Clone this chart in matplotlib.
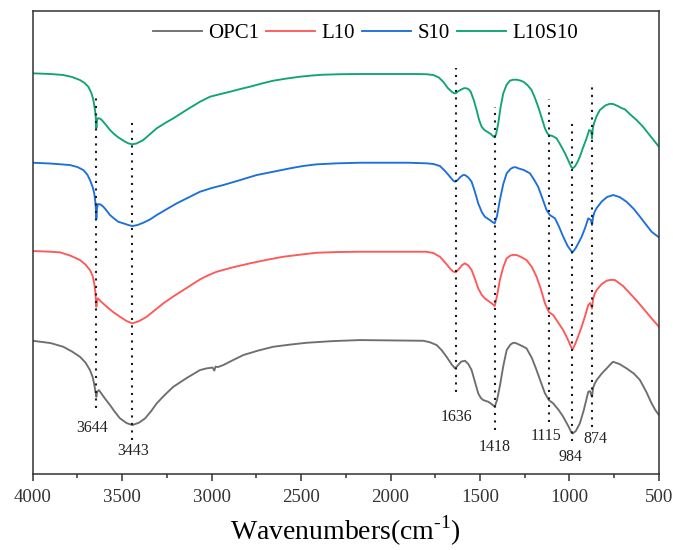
import matplotlib
matplotlib.use("Agg")
import matplotlib.pyplot as plt
from matplotlib.ticker import MultipleLocator

plt.rcParams["font.family"] = ["Liberation Serif", "DejaVu Serif"]
plt.rcParams["mathtext.fontset"] = "custom"
plt.rcParams["mathtext.rm"] = "Liberation Serif"

# FTIR spectra, offset transmittance (a.u.)
wn_opc1 = [4000, 3900, 3829, 3780, 3736, 3705, 3680, 3665, 3657, 3650, 3646, 3644, 3640, 3630,
           3600, 3568, 3540, 3512, 3475, 3443, 3405, 3372, 3340, 3307, 3260, 3214, 3140, 3065,
           3028, 2995, 2985, 2978, 2965, 2935, 2880, 2823, 2740, 2656, 2560, 2469, 2320, 2171,
           1817, 1780, 1742, 1715, 1687, 1660, 1640, 1625, 1605, 1584, 1565, 1547, 1528, 1510,
           1495, 1482, 1454, 1435, 1418, 1405, 1389, 1370, 1351, 1330, 1314, 1300, 1270, 1240,
           1210, 1184, 1160, 1137, 1115, 1091, 1060, 1035, 1005, 990, 982, 965, 942, 920, 905,
           895, 885, 878, 874, 868, 860, 848, 820, 792, 770, 756, 720, 681, 640, 606, 570, 541,
           520, 500]
t_opc1 = [133.3, 131, 127.3, 122.5, 117.3, 111.5, 104, 97, 90.7, 83, 79, 77.3, 82, 84,
          76.5, 69, 62, 55.7, 51, 49, 51.5, 55.7, 62.5, 70.7, 79.5, 87.3, 96, 104,
          105.7, 106.5, 103.5, 107.5, 107, 109, 114, 119, 123.5, 127.3, 129.5, 131.3, 133, 134,
          133.3, 131.8, 129, 124, 117.3, 110, 105.7, 108.5, 112.5, 113.3, 110, 104, 92, 80.7,
          76, 74, 72.3, 70, 67.3, 74, 88, 108, 124, 129.5, 131.3, 131, 128.5, 125.7,
          116, 104, 92, 80.7, 74, 70.7, 64, 57.3, 47.5, 42, 40.7, 43, 50.7, 64, 75,
          82.3, 83, 79, 77.3, 86, 90, 94, 100.5, 105.7, 110, 112.3, 110, 105.7, 100.5, 94, 82, 70.7,
          64, 59]

wn_l10 = [4000, 3920, 3847, 3790, 3736, 3705, 3680, 3665, 3656, 3650, 3646, 3644, 3641, 3636,
          3615, 3586, 3550, 3512, 3475, 3443, 3405, 3363, 3320, 3270, 3215, 3158, 3110, 3065,
          3020, 2972, 2880, 2786, 2690, 2600, 2500, 2413, 2300, 2171, 1800, 1760, 1724, 1695,
          1668, 1650, 1636, 1620, 1600, 1584, 1565, 1547, 1528, 1510, 1490, 1473, 1445, 1430,
          1418, 1405, 1389, 1370, 1351, 1330, 1314, 1295, 1270, 1240, 1210, 1184, 1160, 1137,
          1115, 1091, 1065, 1035, 1005, 990, 982, 968, 950, 932, 912, 895, 885, 878, 874, 868,
          860, 848, 820, 792, 770, 746, 700, 662, 625, 588, 545, 500]
t_l10 = [223, 222.5, 221.7, 218.5, 214, 209.5, 204, 198, 190.7, 182, 172, 167.3, 173, 175.7,
         172, 167.3, 162, 157.3, 153, 150.7, 153, 157.3, 163.5, 170.7, 177.5, 184, 189.5, 194.7,
         198.7, 202.3, 206.8, 210.7, 214.3, 217.3, 219.5, 221.3, 222, 222.3, 222.3, 221, 217.3, 211.5,
         205.7, 202.5, 201.7, 204.5, 209, 210.7, 208.5, 204, 195, 185.7, 179, 175.7, 172, 170,
         168, 178, 194, 207, 215.7, 218.5, 219.2, 219, 217, 214, 207, 197.3, 185, 170.7,
         162, 159, 152, 144, 133, 126.5, 124.7, 130, 138.5, 147.3, 158.5, 169, 171, 168, 165.7, 175,
         180, 184, 190, 193.3, 194.2, 194, 188, 180.7, 173.5, 165.7, 156.5, 147.3]

wn_s10 = [4000, 3900, 3792, 3750, 3717, 3695, 3680, 3665, 3656, 3650, 3646, 3644, 3641, 3636,
          3620, 3605, 3585, 3568, 3545, 3522, 3490, 3465, 3443, 3415, 3382, 3345, 3307, 3250,
          3195, 3130, 3065, 3000, 2935, 2840, 2748, 2650, 2562, 2490, 2413, 2300, 2171, 1900,
          1798, 1760, 1724, 1695, 1668, 1650, 1640, 1625, 1610, 1595, 1584, 1565, 1547, 1528,
          1510, 1490, 1473, 1445, 1430, 1418, 1405, 1389, 1370, 1351, 1330, 1314, 1300, 1286,
          1255, 1221, 1200, 1175, 1150, 1128, 1110, 1081, 1060, 1035, 1010, 990, 980, 965, 950,
          932, 912, 895, 880, 874, 868, 860, 848, 820, 790, 756, 720, 681, 640, 606, 570, 541, 500]
t_s10 = [311.3, 310.5, 309, 307, 304, 299.5, 294, 287, 280.7, 272, 262, 255.7, 265, 270,
         269.5, 267.3, 263, 259, 255.5, 252.3, 250.5, 249, 248, 249, 251.3, 254.5, 259, 265,
         270.7, 276.5, 282.3, 286, 289, 294, 299, 302.5, 305.7, 308, 309.7, 310.7, 311.3, 311.3,
         310.7, 310, 308, 303, 297.3, 293.5, 292.3, 294, 297, 299, 299, 296.5, 292.3, 282,
         270.7, 262, 257.3, 254, 252, 250.7, 258, 274, 290, 300.7, 305, 306.7, 306.8, 305.7,
         304, 300.7, 295, 287.3, 275, 264, 259, 255.7, 248, 237.3, 228, 223, 222.3, 226, 231,
         237.3, 246.5, 255.7, 254, 249, 257, 262, 266, 272.5, 277, 279, 277, 272.3, 265, 257.3, 249, 242.3, 236.7]

wn_l10s10 = [4000, 3900, 3829, 3780, 3736, 3710, 3689, 3672, 3661, 3652, 3648, 3645, 3644, 3642,
             3638, 3625, 3614, 3590, 3568, 3545, 3522, 3490, 3466, 3443, 3420, 3382, 3350, 3307,
             3260, 3214, 3150, 3100, 3065, 3009, 2950, 2897, 2840, 2786, 2720, 2656, 2580, 2506,
             2440, 2376, 2280, 2171, 1854, 1800, 1761, 1730, 1706, 1680, 1659, 1645, 1636, 1620,
             1603, 1588, 1575, 1562, 1552, 1535, 1519, 1505, 1491, 1475, 1460, 1440, 1425, 1418,
             1410, 1398, 1385, 1370, 1352, 1333, 1315, 1295, 1275, 1258, 1235, 1212, 1195, 1175,
             1155, 1137, 1125, 1115, 1095, 1072, 1050, 1025, 1000, 990, 982, 970, 955, 942, 925,
             908, 895, 890, 880, 876, 874, 870, 863, 848, 830, 800, 775, 756, 730, 710, 690, 660,
             625, 590, 560, 530, 500]
t_l10s10 = [400.7, 400, 399, 397, 394, 391, 387.3, 381, 374, 364, 357.3, 350, 346, 352,
            355.7, 355.5, 354, 349, 344, 340, 336.7, 333, 330.7, 329.7, 330.5, 334, 339, 345.7,
            351, 355.7, 363, 368.5, 372.3, 377.3, 380, 382.3, 385, 387.3, 390.5, 393.3, 395.5, 397.3,
            398.5, 399.3, 399.8, 400, 400, 399.8, 399, 396.5, 392.3, 386, 382.3, 380.8, 380.7, 383,
            384.7, 385.9, 385.7, 384.5, 382.3, 374, 364, 354, 347.3, 344, 342.3, 340, 337.5, 336.7,
            340, 350.7, 367, 380.7, 389, 393.3, 394.3, 394.3, 393.5, 392.3, 389, 384, 377, 367.3,
            356, 345.7, 341, 339, 338, 335.7, 329, 320.7, 311, 307, 305.7, 307.5, 312, 317.3, 326,
            334, 341, 344, 343, 340, 335.7, 345, 350.7, 358, 364, 368.5, 370.2, 370, 368, 366, 364.7, 359.5,
            354, 347.5, 340.7, 334, 327.3]

series = [
    ("OPC1", wn_opc1, t_opc1, "#6e6e6e"),
    ("L10", wn_l10, t_l10, "#ff5858"),
    ("S10", wn_s10, t_s10, "#1c6fdc"),
    ("L10S10", wn_l10s10, t_l10s10, "#10a56e"),
]

# marked bands: wavenumber, dotted line span (low, high), label position
peaks = [3644, 3443, 1636, 1418, 1115, 984, 874]
peak_span = [(66, 379), (34, 356), (82, 406), (44, 367), (52, 375), (33, 353), (47, 389)]
peak_label_x = [3670, 3440, 1631, 1420, 1132, 992, 858]
peak_label_y = [46, 23, 57, 27, 38, 17, 35]

fig = plt.figure(figsize=(6.73, 5.5), dpi=100)
ax = fig.add_axes([0.0486, 0.138, 0.9305, 0.842])

for name, wn, t, color in series:
    ax.plot(wn, t, color=color, lw=1.35, label=name, solid_joinstyle="round")

for wn, (lo, hi), lx, ly in zip(peaks, peak_span, peak_label_x, peak_label_y):
    ax.plot([wn, wn], [lo, hi], color="#1a1a1a", lw=1.5, ls=(0, (1, 2.6)))
    ax.text(lx, ly, str(wn), ha="center", va="center", fontsize=11.5, color="#222222")

ax.set_xlim(4000, 500)
ax.set_ylim(0, 463)
ax.xaxis.set_major_locator(MultipleLocator(500))
ax.xaxis.set_minor_locator(MultipleLocator(250))
ax.tick_params(axis="x", which="major", direction="out", length=5, width=1.1,
               labelsize=13.6, pad=5.5, colors="#333333", labelcolor="#333333")
ax.tick_params(axis="x", which="minor", direction="out", length=3, width=1.1, colors="#333333")
ax.set_yticks([])
for sp in ax.spines.values():
    sp.set_linewidth(1.1)
    sp.set_color("#333333")

ax.set_xlabel(r"Wavenumbers(cm$^{\text{-1}}$)", fontsize=20, labelpad=6)

ax.legend(loc="center", bbox_to_anchor=(0.531, 0.952), ncol=4, frameon=False,
          fontsize=15, handlelength=2.35, handletextpad=0.3, columnspacing=0.35,
          borderaxespad=0)

fig.savefig("out.png", dpi=100)
